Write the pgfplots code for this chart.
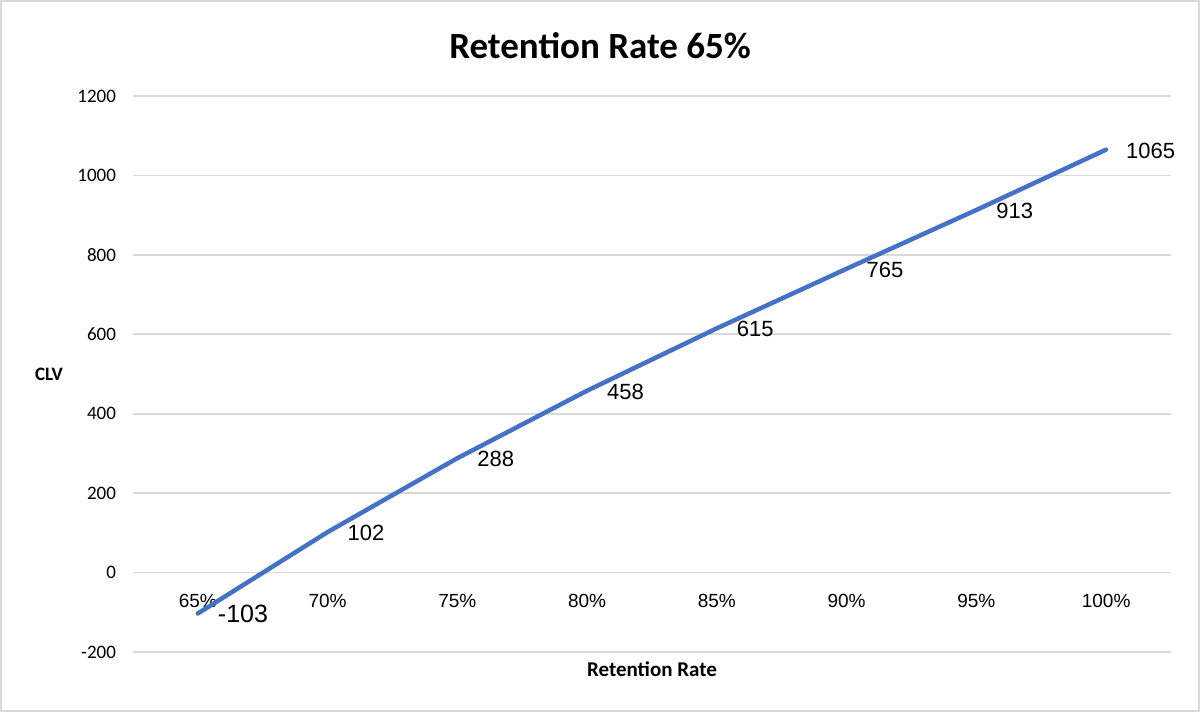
\documentclass[border=0pt]{standalone}
\usepackage{fontspec}
\setmainfont{Carlito}
\newfontfamily\arialf{Liberation Sans}
\usepackage{pgfplots}
\pgfplotsset{compat=1.18}
\definecolor{lineblue}{HTML}{4472C4}
\definecolor{gridgray}{HTML}{D9D9D9}
\begin{document}
\begin{tikzpicture}
\begin{axis}[
  at={(0,0)}, anchor=south west,
  scale only axis,
  width=519pt, height=278pt,
  xmin=-0.5, xmax=7.5,
  ymin=-200, ymax=1200,
  axis x line=middle,
  axis y line=left,
  x axis line style={draw=gridgray, line width=0.9pt, -},
  y axis line style={draw=none, -},
  xtick={0,1,2,3,4,5,6,7},
  xticklabels={65\%,70\%,75\%,80\%,85\%,90\%,95\%,100\%},
  ytick={-200,0,200,400,600,800,1000,1200},
  major tick length=0pt,
  ymajorgrids=true,
  grid style={draw=gridgray, line width=0.9pt},
  /pgf/number format/assume math mode=true,
  /pgf/number format/1000 sep={},
  yticklabel style={font=\fontsize{9.5}{11}\selectfont, anchor=east, xshift=-5pt},
  xticklabel style={font=\arialf\fontsize{9.5}{11}\selectfont, anchor=north, yshift=-7.5pt},
  xlabel={\textbf{Retention Rate}},
  xlabel style={at={(axis description cs:0.5,0)}, anchor=center, yshift=-8.5pt, font=\fontsize{10.5}{12}\selectfont},
  ylabel={\textbf{CLV}},
  ylabel style={at={(axis description cs:0,0.5)}, anchor=center, rotate=-90, xshift=-42pt, font=\fontsize{9.5}{11}\selectfont},
  title={\textbf{Retention Rate 65\%}},
  title style={at={(axis description cs:0.45,1)}, anchor=center, yshift=19pt, font=\fontsize{18.5}{22}\selectfont},
  clip=false,
]
\addplot[color=lineblue, line width=2.25pt, line cap=round, line join=round, mark=none]
  coordinates {(0,-103) (1,102) (2,288) (3,458) (4,615) (5,765) (6,913) (7,1065)};
\addplot[draw=none, mark=none, nodes near coords,
  every node near coord/.append style={anchor=west, xshift=6.5pt, yshift=-0.5pt, font=\arialf\fontsize{11}{13}\selectfont, text=black}]
  coordinates {(1,102) (2,288) (3,458) (4,615) (5,765) (6,913) (7,1065)};
\addplot[draw=none, mark=none, nodes near coords,
  every node near coord/.append style={anchor=west, xshift=6.5pt, font=\arialf\fontsize{12.5}{15}\selectfont, text=black}]
  coordinates {(0,-103)};
\end{axis}
\path (-66.5pt,-30pt) rectangle (533.5pt,326pt);
\draw[gridgray, line width=0.75pt] (-66pt,-29.5pt) rectangle (533pt,325.5pt);
\end{tikzpicture}
\end{document}
